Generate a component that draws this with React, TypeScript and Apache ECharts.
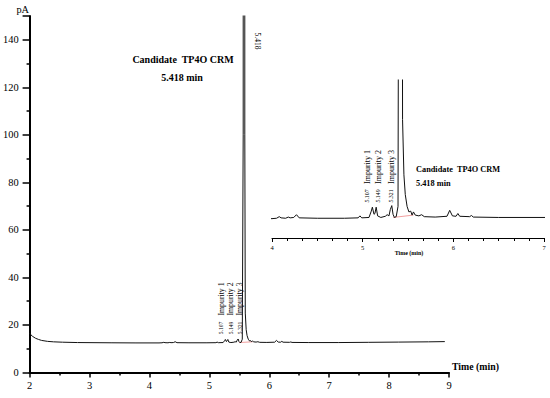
import React, { useEffect, useRef } from "react";
import * as echarts from "echarts";

// Retention time (min) and detector signal (pA)
const times = [
  2.0, 2.02, 2.05, 2.1, 2.15, 2.2, 2.3, 2.4, 2.55, 2.8, 3.2, 3.6, 4.0, 4.05, 4.08, 4.1, 4.15, 4.18, 4.2, 4.24,
  4.27, 4.3, 4.5, 4.8, 4.95, 4.97, 4.99, 5.07, 5.095, 5.107, 5.125, 5.135, 5.149, 5.165, 5.2, 5.25, 5.27, 5.29,
  5.305, 5.321, 5.335, 5.35, 5.37, 5.39, 5.405, 5.41, 5.426, 5.432, 5.44, 5.455, 5.47, 5.49, 5.51, 5.53, 5.545,
  5.56, 5.58, 5.62, 5.65, 5.68, 5.8, 5.93, 5.96, 5.99, 6.03, 6.05, 6.07, 6.18, 6.2, 6.22, 6.5, 7.0, 7.5, 8.0, 8.5, 8.84,
];
// Time positions of the same trace as drawn on the full-range axis (drawn ~0.16 min later there)
const mainTimes = [
  2.0, 2.02, 2.05, 2.1, 2.15, 2.2, 2.3, 2.4, 2.55, 2.8, 3.36, 3.76, 4.16, 4.21, 4.24, 4.26, 4.31, 4.34, 4.36, 4.4,
  4.43, 4.46, 4.66, 4.96, 5.11, 5.13, 5.15, 5.23, 5.255, 5.267, 5.285, 5.295, 5.309, 5.325, 5.36, 5.41, 5.43, 5.45,
  5.465, 5.481, 5.495, 5.51, 5.53, 5.55, 5.565, 5.57, 5.586, 5.592, 5.6, 5.615, 5.63, 5.65, 5.67, 5.69, 5.705,
  5.72, 5.74, 5.78, 5.81, 5.84, 5.96, 6.09, 6.12, 6.15, 6.19, 6.21, 6.23, 6.34, 6.36, 6.38, 6.66, 7.16, 7.66, 8.16, 8.66, 8.93,
];
const signal = [
  16.6, 15.9, 15.2, 14.4, 13.9, 13.5, 13.1, 12.9, 12.75, 12.6, 12.5, 12.45, 12.45, 12.5, 12.7, 12.55, 12.5, 12.65,
  12.55, 12.6, 12.95, 12.55, 12.5, 12.5, 12.55, 12.8, 12.55, 12.6, 13.4, 13.9, 13.0, 13.1, 13.9, 12.8, 12.6, 12.75,
  12.95, 12.8, 13.6, 14.1, 13.0, 12.6, 12.7, 14.0, 100, 900, 900, 100, 25, 18, 15.5, 14.0, 13.3, 13.4, 12.9, 13.3,
  12.9, 12.8, 12.95, 12.7, 12.65, 12.75, 13.5, 12.8, 12.75, 13.1, 12.75, 12.7, 12.85, 12.65, 12.6, 12.6, 12.7,
  12.8, 12.9, 13.0,
];
// integration baseline under the main peak (inset axis / full axis)
const baseTimes = [5.335, 5.56];
const mainBaseTimes = [5.495, 5.72];
const baseValues = [12.6, 12.9];

// peak annotations: label, retention time, x position on the full axis and on the inset axis
const peakNames = ["Impurity 1", "Impurity 2", "Impurity 3"];
const peakTimes = ["5.107", "5.149", "5.321"];
const mainLabelAt = [5.2, 5.355, 5.505];
const insetLabelAt = [5.05, 5.17, 5.315];
const mainPeak = "5.418";
const mainPeakLabelAt = 5.81;
const titleLines = ["Candidate  TP4O CRM", "5.418 min"];

const SERIF = "Liberation Serif";

export default function App() {
  const ref = useRef<HTMLDivElement>(null);
  useEffect(() => {
    if (!ref.current) return;
    const chart = echarts.init(ref.current, null, { renderer: "svg" });
    const data = times.map((t, i) => [t, signal[i]]);
    const mainData = mainTimes.map((t, i) => [t, signal[i]]);
    const base = baseTimes.map((t, i) => [t, baseValues[i]]);
    const mainBase = mainBaseTimes.map((t, i) => [t, baseValues[i]]);
    chart.setOption({
      animation: false,
      textStyle: { fontFamily: SERIF },
      grid: [
        { left: 29, right: 101, top: 16, bottom: 25.5 },
        { left: 272, right: 6, top: 80, bottom: 160 },
      ],
      xAxis: [
        {
          gridIndex: 0, type: "value", min: 2, max: 9, interval: 1,
          axisLine: { lineStyle: { color: "#000", width: 2 } },
          axisTick: { length: 5, lineStyle: { color: "#000", width: 1.5 } },
          minorTick: { show: true, splitNumber: 2, length: 3, lineStyle: { color: "#000", width: 1.5 } },
          axisLabel: { margin: 7, color: "#000", fontFamily: SERIF, fontSize: 10.5 },
          splitLine: { show: false },
        },
        {
          gridIndex: 1, type: "value", min: 4, max: 7, interval: 1,
          axisLine: { lineStyle: { color: "#000", width: 1 } },
          axisTick: { length: 4, lineStyle: { color: "#000" } },
          minorTick: { show: true, splitNumber: 6, length: 3, lineStyle: { color: "#000" } },
          axisLabel: { margin: 6, color: "#000", fontFamily: SERIF, fontSize: 6.5, showMaxLabel: true, showMinLabel: true },
          splitLine: { show: false },
        },
      ],
      yAxis: [
        {
          gridIndex: 0, type: "value", min: 0, max: 150, interval: 20,
          axisLine: { show: true, lineStyle: { color: "#000", width: 2 } },
          axisTick: { show: true, length: 7, lineStyle: { color: "#000", width: 1.5 } },
          minorTick: { show: true, splitNumber: 2, length: 3, lineStyle: { color: "#000", width: 1.5 } },
          axisLabel: { margin: 11, color: "#000", fontFamily: SERIF, fontSize: 10.4, showMaxLabel: false },
          splitLine: { show: false },
        },
        { gridIndex: 1, type: "value", min: 10, max: 30, show: false, splitLine: { show: false } },
      ],
      series: [
        {
          type: "line", xAxisIndex: 0, yAxisIndex: 0, data: mainData, showSymbol: false, symbol: "none",
          lineStyle: { color: "#111", width: 1 }, clip: true, z: 3,
        },
        {
          type: "line", xAxisIndex: 0, yAxisIndex: 0, data: mainBase, symbol: "none",
          lineStyle: { color: "#f2a0a0", width: 1 }, z: 2,
        },
        {
          type: "line", xAxisIndex: 1, yAxisIndex: 1, data, showSymbol: false, symbol: "none",
          lineStyle: { color: "#111", width: 1 }, clip: true, z: 3,
        },
        {
          type: "line", xAxisIndex: 1, yAxisIndex: 1, data: base, symbol: "none",
          lineStyle: { color: "#f2a0a0", width: 1 }, z: 2,
        },
      ],
    });

    const p0 = (t: number, v: number) => chart.convertToPixel({ gridIndex: 0 }, [t, v]) as number[];
    const p1 = (t: number, v: number) => chart.convertToPixel({ gridIndex: 1 }, [t, v]) as number[];
    const vtext = (x: number, y: number, text: string, size: number, rot: number) => ({
      type: "text", x, y, rotation: rot,
      style: { text, fontFamily: SERIF, fontSize: size, fill: "#000", align: "center", verticalAlign: "middle" },
    });
    const htext = (x: number, y: number, text: string, size: number, bold: boolean, align: string) => ({
      type: "text", x, y,
      style: { text, fontFamily: SERIF, fontSize: size, fontWeight: bold ? "bold" : "normal", fill: "#000", align, verticalAlign: "middle" },
    });
    const g: any[] = [];
    peakTimes.forEach((pt, i) => {
      const a = p0(mainLabelAt[i], 0);
      g.push(vtext(a[0], 299, peakNames[i], 7.8, Math.PI / 2));
      g.push(vtext(a[0], 328, pt, 5.6, Math.PI / 2));
      const b = p1(insetLabelAt[i], 0);
      g.push(vtext(b[0], 167, peakNames[i], 8, Math.PI / 2));
      g.push(vtext(b[0], 196, pt, 5.8, Math.PI / 2));
    });
    const m = p0(mainPeakLabelAt, 0);
    g.push(vtext(m[0], 41, mainPeak, 7.5, -Math.PI / 2));
    g.push(htext(183, 59, titleLines[0], 10, true, "center"));
    g.push(htext(182, 77, titleLines[1], 10, true, "center"));
    g.push(htext(416, 169, titleLines[0], 8.3, true, "left"));
    g.push(htext(416, 183, titleLines[1], 8.3, true, "left"));
    g.push(htext(29, 9, "pA", 10.3, false, "right"));
    g.push(htext(452, 366, "Time (min)", 9.8, true, "left"));
    g.push(htext(409, 253, "Time (min)", 6, true, "center"));
    chart.setOption({ graphic: g });
    return () => chart.dispose();
  }, []);
  return <div ref={ref} style={{ position: "absolute", left: 0, top: 0, width: 550, height: 398 }} />;
}
